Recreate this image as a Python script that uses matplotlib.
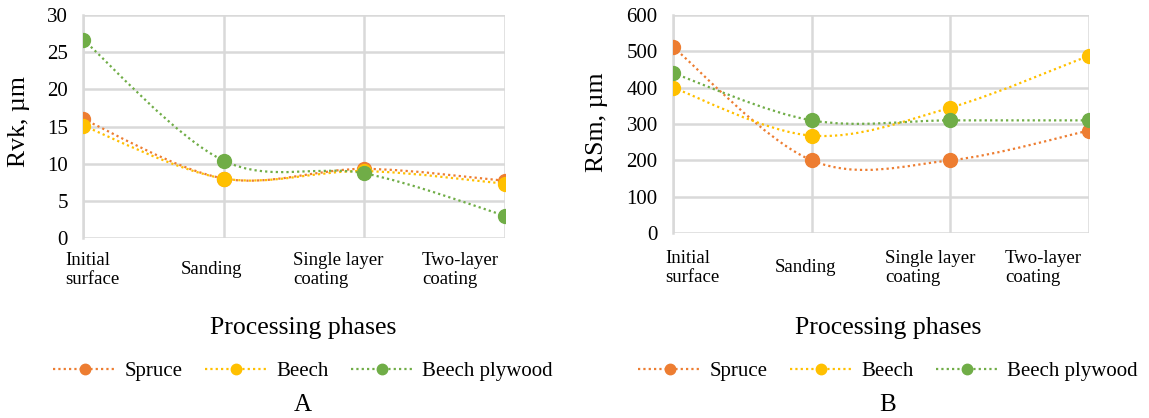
import numpy as np
import matplotlib.pyplot as plt
from matplotlib.path import Path
from matplotlib.patches import PathPatch
from matplotlib.lines import Line2D

phases = ["Initial\nsurface", "Sanding", "Single layer\ncoating", "Two-layer\ncoating"]
series_names = ["Spruce", "Beech", "Beech plywood"]
colors = ["#ED7D31", "#FFC000", "#70AD47"]

rvk_spruce = [16.0, 8.0, 9.3, 7.7]
rvk_beech = [15.1, 8.0, 9.0, 7.3]
rvk_plywood = [26.7, 10.4, 8.7, 3.0]

rsm_spruce = [512, 200, 200, 282]
rsm_beech = [400, 268, 345, 488]
rsm_plywood = [440, 310, 310, 310]

plt.rcParams['font.family'] = ['Liberation Serif', 'DejaVu Serif']

W, H = 1149, 418
DOT = (0, (1, 1.4))


def fx(px):
    return px / W


def fy(py):
    return 1 - py / H


def smooth_path(x, y):
    """Excel-like smoothed line: cubic Bezier segments (Catmull-Rom)."""
    pts = np.column_stack([x, y]).astype(float)
    ext = np.vstack([pts[0], pts, pts[-1]])
    verts = [pts[0]]
    codes = [Path.MOVETO]
    for i in range(len(pts) - 1):
        p0, p1, p2, p3 = ext[i], ext[i + 1], ext[i + 2], ext[i + 3]
        verts += [p1 + (p2 - p0) / 6.0, p2 - (p3 - p1) / 6.0, p2]
        codes += [Path.CURVE4] * 3
    return Path(verts, codes)


def draw_panel(ax, data, ymax, ystep, ylabel, ylab_x, offs, lab_y, cx, letter):
    x = np.arange(len(phases))
    for vals, c in zip(data, colors):
        ax.add_patch(PathPatch(smooth_path(x, vals), fill=False, edgecolor=c,
                               lw=1.6, ls=DOT, zorder=3))
        ax.plot(x, vals, 'o', color=c, ms=10, zorder=4)
    ax.set_xlim(0, len(phases) - 1)
    ax.set_ylim(0, ymax)
    ax.set_yticks(np.arange(0, ymax + 1, ystep))
    ax.set_xticks(x)
    ax.grid(True, color='#D9D9D9', lw=1.8)
    ax.set_axisbelow(True)
    for s in ['top', 'right', 'bottom']:
        ax.spines[s].set_visible(False)
    ax.spines['left'].set_color('#D9D9D9')
    ax.spines['left'].set_linewidth(1.8)
    ax.tick_params(axis='both', length=0, labelsize=15)
    ax.tick_params(axis='y', pad=11)
    ax.set_xticklabels([])
    # category labels, Excel places them shifted left
    for xi, lab, off in zip(x, phases, offs):
        ax.annotate(lab, xy=(xi, fy(lab_y)), xycoords=('data', 'figure fraction'),
                    xytext=(off / 1.389, 0), textcoords='offset points',
                    ha='left', va='center', fontsize=13.5, linespacing=1.1)
    fig.text(fx(ylab_x), fy(122), ylabel, rotation=90, ha='center',
             va='center', fontsize=18.5)
    fig.text(fx(cx), fy(328), "Processing phases", ha='center',
             va='center', fontsize=18.5)
    handles = [Line2D([], [], color=c, ls=DOT, lw=1.6, marker='o', ms=7.5)
               for c in colors]
    fig.legend(handles, series_names, loc='center', ncol=3, frameon=False,
               bbox_to_anchor=(fx(cx), fy(371)), fontsize=15, handlelength=3,
               columnspacing=1.1, handletextpad=0.4, borderpad=0)
    fig.text(fx(cx), fy(405), letter, ha='center', va='center', fontsize=18)


fig = plt.figure(figsize=(W / 100, H / 100), dpi=100)
ax1 = fig.add_axes([fx(83), fy(238), fx(505 - 83), (238 - 15) / H])
ax2 = fig.add_axes([fx(673), fy(233), fx(1089 - 673), (233 - 15) / H])

draw_panel(ax1, [rvk_spruce, rvk_beech, rvk_plywood], 30, 5, "Rvk, µm", 19,
           [-18, -43, -71, -83], 270, 303, "A")
draw_panel(ax2, [rsm_spruce, rsm_beech, rsm_plywood], 600, 100, "RSm, µm", 597,
           [-8, -37, -65, -84], 268, 888, "B")

fig.savefig("out.png", dpi=100)
